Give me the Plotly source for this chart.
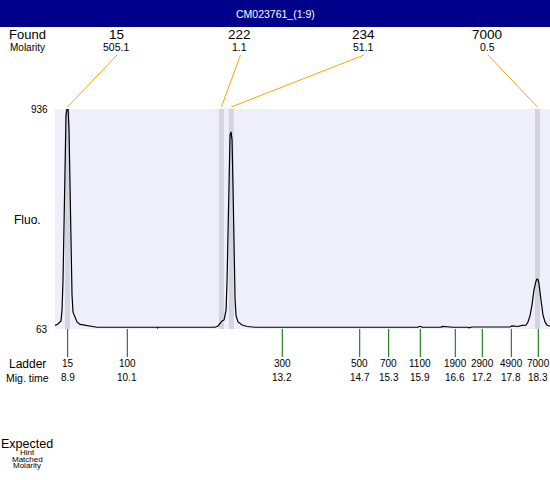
import plotly.graph_objects as go

# ---------------- data ----------------
title_text = "CM023761_(1:9)"

mig_time = [8.646, 8.706, 8.766, 8.786, 8.806, 8.826, 8.846, 8.866, 8.886, 8.906,
            8.926, 8.946, 8.966, 8.986, 9.006, 9.046, 9.086, 9.146, 9.246, 9.346,
            9.486, 10.685, 10.695, 10.705, 11.843, 11.903, 11.943, 11.983, 12.023, 12.063,
            12.083, 12.103, 12.123, 12.143, 12.163, 12.183, 12.203, 12.223, 12.243, 12.263,
            12.303, 12.383, 12.483, 12.643, 15.897, 15.917, 15.957, 15.977, 16.357, 16.377,
            16.457, 16.517, 16.557, 16.597, 16.896, 16.916, 16.976, 17.735, 17.775, 17.815,
            17.895, 17.975, 18.054, 18.094, 18.134, 18.174, 18.214, 18.254, 18.274, 18.294,
            18.314, 18.354, 18.394, 18.434, 18.474, 18.514, 18.534]
fluorescence = [77, 83, 95, 138, 257, 456, 694, 912, 936, 936,
                853, 575, 337, 198, 130, 107, 91, 81, 77, 74,
                70, 70, 67, 70, 70, 75, 87, 95, 99, 138,
                257, 496, 734, 833, 845, 813, 615, 337, 178, 115,
                91, 79, 73, 70, 70, 73, 73, 70, 70, 73,
                72, 71, 73, 70, 70, 68, 71, 71, 75, 74,
                73, 77, 78, 91, 115, 158, 218, 253, 261, 259,
                242, 178, 119, 91, 79, 75, 75]

found_sizes = ["15", "222", "234", "7000"]
found_molarity = ["505.1", "1.1", "51.1", "0.5"]
found_times = [8.895, 11.970, 12.167, 18.284]

ladder_sizes = ["15", "100", "300", "500", "700", "1100", "1900", "2900", "4900", "7000"]
ladder_times = [8.899, 10.09, 13.186, 14.733, 15.312, 15.943, 16.642, 17.181, 17.761, 18.300]

y_min, y_max = 63, 936
x_min, x_max = 8.646, 18.534

# ---------------- layout constants ----------------
W, H = 550, 480
L, R, T, B = 55, 0, 109, 151
PW = W - L - R
PH = H - T - B
FONT = "Liberation Sans, Arial, sans-serif"


def px_x(p):  # pixel x -> paper x
    return (p - L) / PW


def px_y(p):  # pixel y -> paper y
    return (H - B - p) / PH


def paper_to_data_x(px):
    return x_min + px * (x_max - x_min)


fig = go.Figure()
fig.add_trace(go.Scatter(x=mig_time, y=fluorescence, mode="lines",
                         line=dict(color="black", width=1.2), hoverinfo="skip",
                         showlegend=False))

shapes = []
annotations = []

# title bar
shapes.append(dict(type="rect", xref="paper", yref="paper",
                   x0=px_x(0), x1=px_x(W), y0=px_y(27), y1=px_y(0),
                   fillcolor="#00008B", line=dict(width=0), layer="above"))
annotations.append(dict(xref="paper", yref="paper", x=px_x(275), y=px_y(14),
                        text=title_text, showarrow=False,
                        font=dict(family=FONT, size=10.5, color="white"),
                        xanchor="center", yanchor="middle"))

# peak bands
for t in found_times:
    shapes.append(dict(type="rect", xref="x", yref="paper", x0=t - 0.05, x1=t + 0.05,
                       y0=0, y1=1, fillcolor="#D4D4E0", line=dict(width=0), layer="below"))

# found labels and connectors
label_px = [116, 239.5, 363, 487]
for i, (s, m, t) in enumerate(zip(found_sizes, found_molarity, found_times)):
    lx = px_x(label_px[i])
    annotations.append(dict(xref="paper", yref="paper", x=lx, y=px_y(34.5), text=s,
                            showarrow=False, font=dict(family=FONT, size=13.5, color="black"),
                            xanchor="center", yanchor="middle"))
    annotations.append(dict(xref="paper", yref="paper", x=lx, y=px_y(47), text=m,
                            showarrow=False, font=dict(family=FONT, size=10.5, color="black"),
                            xanchor="center", yanchor="middle"))
    shapes.append(dict(type="line", xref="x", yref="paper",
                       x0=paper_to_data_x(px_x(label_px[i] + 1)), y0=px_y(55),
                       x1=t, y1=px_y(107), line=dict(color="#FFA500", width=1)))

# ladder ticks and labels
for s, t in zip(ladder_sizes, ladder_times):
    shapes.append(dict(type="line", xref="x", yref="paper", x0=t, x1=t,
                       y0=0, y1=px_y(357), line=dict(color="#006400", width=1)))
    annotations.append(dict(xref="x", yref="paper", x=t, y=px_y(363.5), text=s,
                            showarrow=False, font=dict(family=FONT, size=10, color="black"),
                            xanchor="center", yanchor="middle"))
    annotations.append(dict(xref="x", yref="paper", x=t, y=px_y(377.5), text=f"{t:.1f}",
                            showarrow=False, font=dict(family=FONT, size=10, color="black"),
                            xanchor="center", yanchor="middle"))

# left-hand labels
left = [("Found", 34.5, 13), ("Molarity", 47, 10), ("Fluo.", 220, 12),
        ("Ladder", 363.5, 12), ("Mig. time", 377.5, 10.5),
        ("Expected", 443.5, 12.5), ("Hint", 453, 8), ("Matched", 459.5, 8), ("Molarity", 466, 8)]
for txt, py, sz in left:
    annotations.append(dict(xref="paper", yref="paper", x=px_x(27), y=px_y(py), text=txt,
                            showarrow=False, font=dict(family=FONT, size=sz, color="black"),
                            xanchor="center", yanchor="middle"))

# y extreme labels
for v in (y_max, y_min):
    annotations.append(dict(xref="paper", yref="y", x=px_x(49.5), y=v, text=str(v),
                            showarrow=False, font=dict(family=FONT, size=10, color="black"),
                            xanchor="right", yanchor="middle"))

fig.update_layout(
    width=W, height=H, margin=dict(l=L, r=R, t=T, b=B, pad=0),
    plot_bgcolor="#EFEFFC", paper_bgcolor="white",
    xaxis=dict(range=[x_min, x_max], showgrid=False, zeroline=False,
               showticklabels=False, ticks="", showline=False, fixedrange=True),
    yaxis=dict(range=[y_min, y_max], showgrid=False, zeroline=False,
               showticklabels=False, ticks="", showline=False, fixedrange=True),
    shapes=shapes, annotations=annotations, showlegend=False,
)

fig.write_html("out.html", config={"displayModeBar": False},
               post_script="document.body.style.margin='0';document.body.style.overflow='hidden';")
